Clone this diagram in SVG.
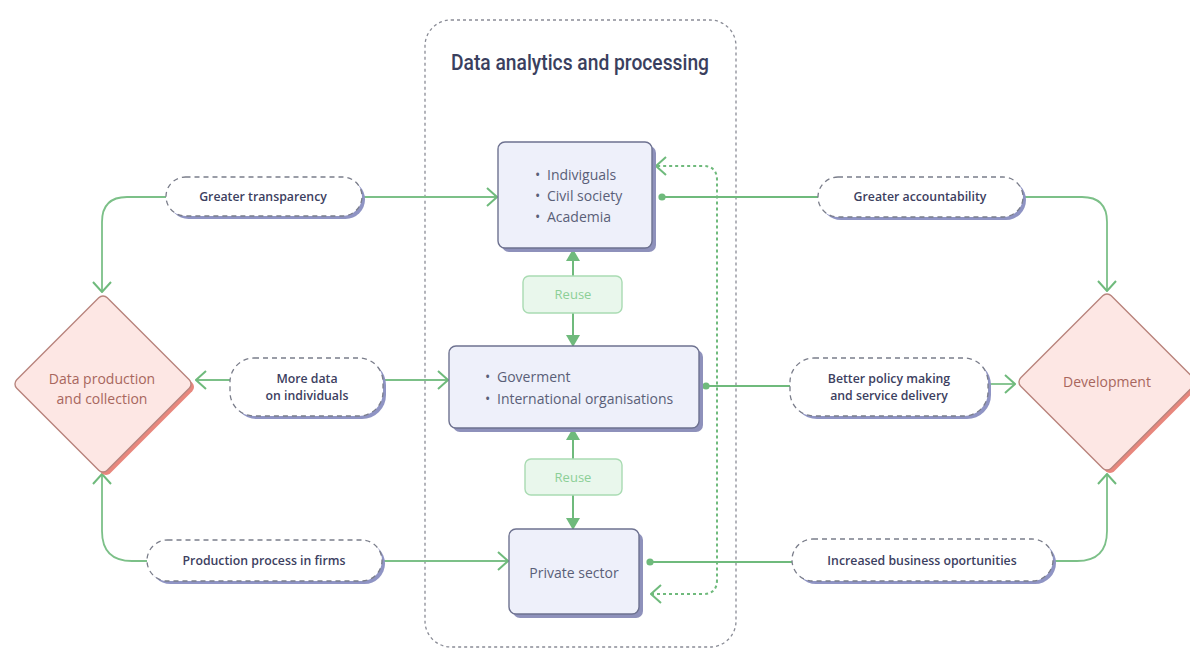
<svg xmlns="http://www.w3.org/2000/svg" width="1190" height="650" viewBox="0 0 1190 650">
  <style>
    .pill { fill: #ffffff; stroke: #7a7d8a; stroke-width: 1.3; stroke-dasharray: 5 4; }
    .pill-shadow { fill: #8f94c4; }
    .box { fill: #eef0fa; stroke: #6e7290; stroke-width: 1.4; }
    .box-shadow { fill: #8e91bb; }
    .dia { fill: #fde7e4; stroke: #b9857e; stroke-width: 1.4; }
    .dia-shadow { fill: #e8877d; }
    .reuse { fill: #e9f7ec; stroke: #a9dbb2; stroke-width: 1.4; }
    .reuse-text { font-family: "Open Sans", sans-serif; font-size: 13px; fill: #8ccf97; text-anchor: middle; }
    .pill-text { font-family: "Open Sans", sans-serif; font-weight: 600; font-size: 12.3px; fill: #3c4060; text-anchor: middle; }
    .node-text { font-family: "Open Sans", sans-serif; font-size: 14px; fill: #5a5f78; }
    .dia-text { font-family: "Open Sans", sans-serif; font-size: 14px; fill: #a8665d; text-anchor: middle; }
    .link { fill: none; stroke: #6fba7c; stroke-width: 2; }
    .link-light { fill: none; stroke: #7cc088; stroke-width: 1.8; }
    .dotted { fill: none; stroke: #6fba7c; stroke-width: 2; stroke-dasharray: 3 3; }
  </style>
  <defs>
    <marker id="open" viewBox="0 0 12 20" refX="11" refY="10" markerWidth="12" markerHeight="20" markerUnits="userSpaceOnUse" orient="auto-start-reverse">
      <path d="M1,1 L11,10 L1,19" fill="none" stroke="#6fba7c" stroke-width="2"/>
    </marker>
    <marker id="solid" viewBox="0 0 12 14" refX="11" refY="7" markerWidth="12" markerHeight="14" markerUnits="userSpaceOnUse" orient="auto">
      <path d="M0,0 L12,7 L0,14 Z" fill="#6fba7c"/>
    </marker>
  </defs>

  <rect x="0" y="0" width="1190" height="650" fill="#ffffff"/>

  <!-- processing container -->
  <g id="container">
    <rect x="425" y="20" width="311" height="627" rx="26" fill="none" stroke="#8a8c96" stroke-width="1.3" stroke-dasharray="3 3"/>
    <text x="580" y="70" font-family="Roboto, sans-serif" font-weight="500" font-size="22" fill="#3a3f5e" text-anchor="middle" textLength="258" lengthAdjust="spacingAndGlyphs">Data analytics and processing</text>
  </g>

  <!-- connectors -->
  <g id="connectors">
    <path class="link-light" d="M166,197 H127 Q102,197 102,222 V292" marker-end="url(#open)"/>
    <path class="link-light" d="M362,197 H497" marker-end="url(#open)"/>
    <path class="link-light" d="M230,380 H196" marker-end="url(#open)"/>
    <path class="link-light" d="M383,380 H448" marker-end="url(#open)"/>
    <path class="link-light" d="M147,561 H132 Q102,561 102,531 V474" marker-end="url(#open)"/>
    <path class="link-light" d="M382,561 H508" marker-end="url(#open)"/>

    <path class="link" d="M662,197 H818"/>
    <circle cx="662" cy="197" r="3.6" fill="#6fba7c"/>
    <path class="link-light" d="M1023,197 H1082 Q1107,197 1107,222 V291" marker-end="url(#open)"/>
    <path class="link" d="M706,386 H790"/>
    <circle cx="706" cy="386" r="3.6" fill="#6fba7c"/>
    <path class="link-light" d="M988,384 H1015" marker-end="url(#open)"/>
    <path class="link" d="M650,562 H792"/>
    <circle cx="650" cy="562" r="3.6" fill="#6fba7c"/>
    <path class="link-light" d="M1053,561 H1077 Q1107,561 1107,531 V474" marker-end="url(#open)"/>

    <path class="link" d="M573,276 V250" marker-end="url(#solid)"/>
    <path class="link" d="M573,313 V346" marker-end="url(#solid)"/>
    <path class="link" d="M573,459 V429" marker-end="url(#solid)"/>
    <path class="link" d="M573,495 V529" marker-end="url(#solid)"/>

    <path class="dotted" d="M651,594 H703 Q717,594 717,580 V180 Q717,166 703,166 H656" marker-start="url(#open)" marker-end="url(#open)"/>
  </g>

  <!-- actors inside the container -->
  <g id="node-individuals">
    <rect class="box-shadow" x="502" y="146" width="154" height="106" rx="7"/>
    <rect class="box" x="498" y="142" width="154" height="106" rx="7"/>
    <text class="node-text" x="535" y="180">•</text><text class="node-text" x="547" y="180">Indiviguals</text>
    <text class="node-text" x="535" y="201">•</text><text class="node-text" x="547" y="201">Civil society</text>
    <text class="node-text" x="535" y="222">•</text><text class="node-text" x="547" y="222">Academia</text>
  </g>

  <g id="node-reuse-1">
    <rect class="reuse" x="523" y="276" width="99" height="37" rx="6"/>
    <text class="reuse-text" x="573" y="299">Reuse</text>
  </g>

  <g id="node-government">
    <rect class="box-shadow" x="453" y="350" width="250" height="82" rx="7"/>
    <rect class="box" x="449" y="346" width="250" height="82" rx="7"/>
    <text class="node-text" x="485" y="382">•</text><text class="node-text" x="497" y="382">Goverment</text>
    <text class="node-text" x="485" y="404">•</text><text class="node-text" x="497" y="404">International organisations</text>
  </g>

  <g id="node-reuse-2">
    <rect class="reuse" x="525" y="459" width="97" height="36" rx="6"/>
    <text class="reuse-text" x="573" y="482">Reuse</text>
  </g>

  <g id="node-private">
    <rect class="box-shadow" x="513" y="533" width="130" height="85" rx="7"/>
    <rect class="box" x="509" y="529" width="130" height="85" rx="7"/>
    <text class="node-text" x="574" y="578" text-anchor="middle">Private sector</text>
  </g>

  <!-- left side -->
  <g id="node-data-production">
    <rect class="dia-shadow" x="-64" y="-64" width="128" height="128" rx="6" transform="translate(106,387) rotate(45)"/>
    <rect class="dia" x="-64" y="-64" width="128" height="128" rx="6" transform="translate(103,384) rotate(45)"/>
    <text class="dia-text" x="102" y="384">Data production</text>
    <text class="dia-text" x="102" y="404">and collection</text>
  </g>

  <g id="node-transparency">
    <rect class="pill-shadow" x="169" y="180" width="196" height="39" rx="19.5"/>
    <rect class="pill" x="166" y="177" width="196" height="39" rx="19.5"/>
    <text class="pill-text" x="263" y="201">Greater transparency</text>
  </g>

  <g id="node-more-data">
    <rect class="pill-shadow" x="233" y="361" width="153" height="58" rx="24"/>
    <rect class="pill" x="230" y="358" width="153" height="58" rx="24"/>
    <text class="pill-text" x="307" y="383">More data</text>
    <text class="pill-text" x="307" y="400">on individuals</text>
  </g>

  <g id="node-production-process">
    <rect class="pill-shadow" x="150" y="543" width="235" height="41" rx="20.5"/>
    <rect class="pill" x="147" y="540" width="235" height="41" rx="20.5"/>
    <text class="pill-text" x="264" y="565">Production process in firms</text>
  </g>

  <!-- right side -->
  <g id="node-accountability">
    <rect class="pill-shadow" x="821" y="180" width="205" height="40" rx="20"/>
    <rect class="pill" x="818" y="177" width="205" height="40" rx="20"/>
    <text class="pill-text" x="920" y="201">Greater accountability</text>
  </g>

  <g id="node-policy">
    <rect class="pill-shadow" x="793" y="361" width="198" height="58" rx="24"/>
    <rect class="pill" x="790" y="358" width="198" height="58" rx="24"/>
    <text class="pill-text" x="889" y="383">Better policy making</text>
    <text class="pill-text" x="889" y="400">and service delivery</text>
  </g>

  <g id="node-business">
    <rect class="pill-shadow" x="795" y="542" width="261" height="42" rx="21"/>
    <rect class="pill" x="792" y="539" width="261" height="42" rx="21"/>
    <text class="pill-text" x="922" y="565">Increased business oportunities</text>
  </g>

  <g id="node-development">
    <rect class="dia-shadow" x="-64" y="-64" width="128" height="128" rx="6" transform="translate(1110,385) rotate(45)"/>
    <rect class="dia" x="-64" y="-64" width="128" height="128" rx="6" transform="translate(1107,382) rotate(45)"/>
    <text class="dia-text" x="1107" y="387">Development</text>
  </g>
</svg>
